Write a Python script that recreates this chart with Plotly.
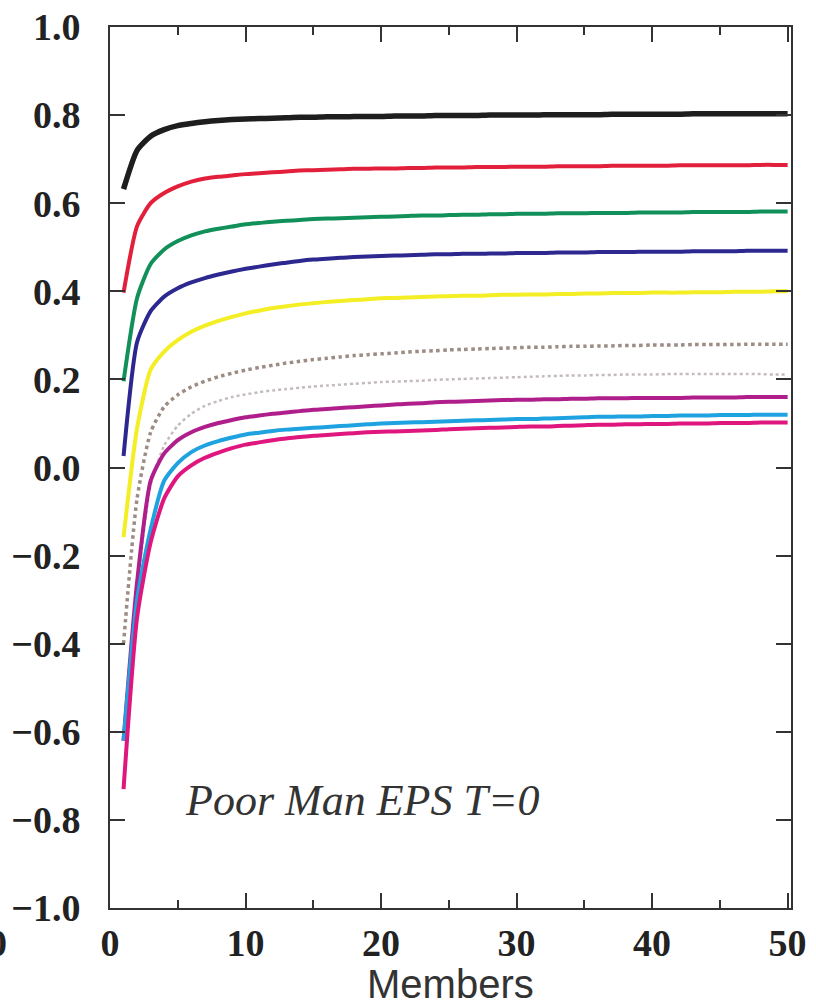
import plotly.graph_objects as go

members = list(range(1, 51))

black = [0.632, 0.720, 0.752, 0.767, 0.776, 0.781, 0.785, 0.788, 0.790, 0.791,
         0.792, 0.793, 0.794, 0.795, 0.795, 0.796, 0.796, 0.797, 0.797, 0.797,
         0.798, 0.798, 0.798, 0.799, 0.799, 0.799, 0.799, 0.800, 0.800, 0.800,
         0.800, 0.801, 0.801, 0.801, 0.801, 0.801, 0.802, 0.802, 0.802, 0.802,
         0.802, 0.802, 0.803, 0.803, 0.803, 0.803, 0.803, 0.803, 0.803, 0.803]

red = [0.397, 0.548, 0.600, 0.623, 0.638, 0.649, 0.656, 0.660, 0.663, 0.666,
       0.668, 0.670, 0.672, 0.674, 0.675, 0.676, 0.677, 0.678, 0.678, 0.679,
       0.679, 0.680, 0.680, 0.681, 0.681, 0.681, 0.682, 0.682, 0.682, 0.683,
       0.683, 0.683, 0.684, 0.684, 0.684, 0.684, 0.685, 0.685, 0.685, 0.685,
       0.685, 0.686, 0.686, 0.686, 0.686, 0.686, 0.686, 0.687, 0.687, 0.687]

green = [0.196, 0.385, 0.462, 0.495, 0.514, 0.527, 0.536, 0.542, 0.547, 0.552,
         0.555, 0.558, 0.560, 0.562, 0.564, 0.565, 0.566, 0.567, 0.568, 0.569,
         0.570, 0.571, 0.572, 0.572, 0.573, 0.574, 0.574, 0.575, 0.575, 0.576,
         0.576, 0.576, 0.577, 0.577, 0.577, 0.578, 0.578, 0.578, 0.579, 0.579,
         0.579, 0.579, 0.580, 0.580, 0.580, 0.580, 0.580, 0.581, 0.581, 0.581]

navy = [0.026, 0.285, 0.355, 0.388, 0.407, 0.420, 0.430, 0.438, 0.445, 0.451,
        0.456, 0.461, 0.465, 0.469, 0.472, 0.474, 0.476, 0.478, 0.479, 0.480,
        0.481, 0.482, 0.483, 0.484, 0.484, 0.485, 0.485, 0.486, 0.486, 0.487,
        0.487, 0.487, 0.488, 0.488, 0.488, 0.489, 0.489, 0.489, 0.490, 0.490,
        0.490, 0.490, 0.491, 0.491, 0.491, 0.491, 0.492, 0.492, 0.492, 0.492]

yellow = [-0.158, 0.090, 0.222, 0.263, 0.289, 0.308, 0.322, 0.333, 0.342, 0.350,
          0.356, 0.362, 0.366, 0.370, 0.373, 0.376, 0.378, 0.380, 0.382, 0.384,
          0.385, 0.386, 0.387, 0.388, 0.389, 0.390, 0.390, 0.391, 0.392, 0.392,
          0.393, 0.393, 0.394, 0.394, 0.395, 0.395, 0.396, 0.396, 0.396, 0.397,
          0.397, 0.397, 0.398, 0.398, 0.398, 0.399, 0.399, 0.399, 0.400, 0.400]

dotted_dark = [-0.400, -0.070, 0.080, 0.138, 0.165, 0.183, 0.196, 0.206, 0.214, 0.221,
               0.227, 0.232, 0.237, 0.241, 0.245, 0.248, 0.251, 0.254, 0.256, 0.258,
               0.260, 0.262, 0.264, 0.265, 0.267, 0.268, 0.269, 0.270, 0.271, 0.272,
               0.273, 0.273, 0.274, 0.275, 0.275, 0.276, 0.276, 0.277, 0.277, 0.278,
               0.278, 0.278, 0.279, 0.279, 0.279, 0.279, 0.280, 0.280, 0.280, 0.280]

dotted_light = [-0.620, -0.280, -0.040, 0.050, 0.095, 0.122, 0.140, 0.151, 0.160, 0.166,
                0.171, 0.175, 0.178, 0.181, 0.184, 0.186, 0.188, 0.190, 0.192, 0.194,
                0.195, 0.196, 0.197, 0.199, 0.200, 0.201, 0.202, 0.203, 0.204, 0.205,
                0.206, 0.207, 0.208, 0.209, 0.209, 0.210, 0.210, 0.211, 0.211, 0.211,
                0.212, 0.212, 0.212, 0.212, 0.212, 0.212, 0.212, 0.212, 0.211, 0.211]

purple = [-0.620, -0.260, -0.030, 0.032, 0.062, 0.080, 0.092, 0.101, 0.108, 0.114,
          0.118, 0.122, 0.125, 0.128, 0.131, 0.133, 0.135, 0.137, 0.139, 0.141,
          0.143, 0.145, 0.146, 0.148, 0.149, 0.150, 0.151, 0.152, 0.153, 0.154,
          0.154, 0.155, 0.155, 0.156, 0.156, 0.157, 0.157, 0.157, 0.158, 0.158,
          0.158, 0.158, 0.159, 0.159, 0.159, 0.159, 0.160, 0.160, 0.160, 0.160]

cyan = [-0.620, -0.300, -0.140, -0.030, 0.010, 0.035, 0.050, 0.060, 0.068, 0.075,
        0.079, 0.083, 0.086, 0.088, 0.090, 0.092, 0.094, 0.096, 0.098, 0.100,
        0.101, 0.102, 0.103, 0.104, 0.105, 0.106, 0.107, 0.108, 0.109, 0.110,
        0.110, 0.111, 0.112, 0.113, 0.114, 0.115, 0.115, 0.116, 0.116, 0.117,
        0.117, 0.118, 0.118, 0.118, 0.119, 0.119, 0.119, 0.120, 0.120, 0.120]

pink = [-0.730, -0.340, -0.170, -0.070, -0.020, 0.005, 0.022, 0.034, 0.044, 0.052,
        0.057, 0.062, 0.066, 0.069, 0.072, 0.074, 0.076, 0.078, 0.080, 0.081,
        0.082, 0.083, 0.084, 0.085, 0.087, 0.088, 0.089, 0.090, 0.091, 0.092,
        0.093, 0.093, 0.094, 0.095, 0.096, 0.097, 0.097, 0.098, 0.098, 0.099,
        0.099, 0.100, 0.100, 0.100, 0.101, 0.101, 0.101, 0.102, 0.102, 0.102]

x_ticks = [0, 10, 20, 30, 40, 50]
y_ticks = [-1.0, -0.8, -0.6, -0.4, -0.2, 0.0, 0.2, 0.4, 0.6, 0.8, 1.0]
annotation_text = "Poor Man EPS T=0"
x_title = "Members"

series = [
    (dotted_dark, "#9c8c84", 3.5, "dot"),
    (dotted_light, "#c4bcbc", 2.5, "dot"),
    (yellow, "#f4ee24", 4, "solid"),
    (navy, "#2c2890", 4, "solid"),
    (green, "#12905a", 4, "solid"),
    (red, "#e2203c", 4, "solid"),
    (black, "#1e1e1e", 5.5, "solid"),
    (purple, "#b01e8c", 4, "solid"),
    (cyan, "#1fa2e0", 4, "solid"),
    (pink, "#e0167f", 4, "solid"),
]

fig = go.Figure()
for vals, col, w, dash in series:
    fig.add_trace(go.Scatter(x=members, y=vals, mode="lines",
                             line=dict(color=col, width=w, dash=dash,
                                       shape="spline", smoothing=0.6),
                             showlegend=False, hoverinfo="skip"))

tickfont = dict(family="Liberation Serif, Times New Roman, serif", size=38,
                color="#222222", weight="bold")

fig.update_xaxes(range=[0, 50.25], tickvals=x_ticks, ticktext=[str(v) for v in x_ticks],
                 ticks="inside", ticklen=15, tickwidth=2, tickcolor="#333333",
                 showline=True, linewidth=2, linecolor="#333333", mirror="ticks",
                 showgrid=False, zeroline=False, tickfont=tickfont,
                 ticklabelstandoff=0, automargin=False,
                 minor=dict(dtick=5, tick0=0, ticks="inside", ticklen=8,
                            tickwidth=2, tickcolor="#333333", showgrid=False))
fig.update_yaxes(range=[-1, 1], tickvals=y_ticks,
                 ticktext=[("\u2212" if v < 0 else "") + f"{abs(v):.1f}" for v in y_ticks],
                 ticks="inside", ticklen=15, tickwidth=2, tickcolor="#333333",
                 showline=True, linewidth=2, linecolor="#333333", mirror="ticks",
                 showgrid=False, zeroline=False, tickfont=tickfont,
                 ticklabelstandoff=20, automargin=False)

fig.add_annotation(x=0.5, y=-0.086, xref="paper", yref="paper", text=x_title,
                   showarrow=False, xanchor="center", yanchor="middle",
                   font=dict(family="Liberation Sans, Arial, sans-serif",
                             size=40, color="#333333"))
fig.add_annotation(x=18.6, y=-0.757, xref="x", yref="y", text=annotation_text,
                   showarrow=False, xanchor="center", yanchor="middle",
                   font=dict(family="Liberation Serif, Times New Roman, serif",
                             size=44, color="#333333", style="italic"))
fig.add_annotation(x=-0.165, y=-0.04, xref="paper", yref="paper", text="0",
                   showarrow=False, xanchor="center", yanchor="middle",
                   font=dict(family="Liberation Serif, Times New Roman, serif",
                             size=38, color="#222222", weight="bold"))

fig.update_layout(width=816, height=1006, margin=dict(l=110, r=25, t=27, b=98),
                  plot_bgcolor="white", paper_bgcolor="white")

fig.write_html("out.html")
